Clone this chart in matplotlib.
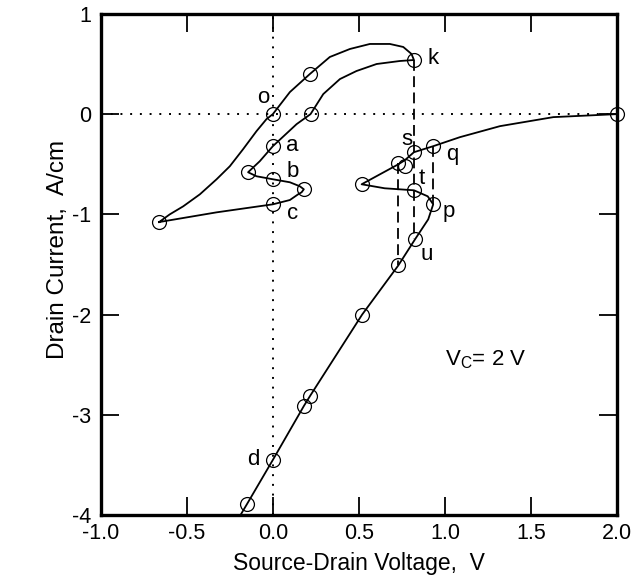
import matplotlib
matplotlib.use("Agg")
import matplotlib.pyplot as plt
from matplotlib.ticker import FormatStrFormatter, FixedLocator

plt.rcParams['font.family'] = ['Liberation Sans', 'DejaVu Sans']

# closed hysteresis loop
loop_x = [-0.661, -0.599, -0.521, -0.424, -0.327, -0.25, -0.173, -0.095, -0.037, 0.0,
          0.099, 0.215, 0.331, 0.448, 0.564, 0.68, 0.758, 0.806, 0.82,
          0.738, 0.603, 0.486, 0.39, 0.293, 0.219, 0.138, 0.0, -0.076, -0.144,
          -0.095, 0.0, 0.099, 0.157, 0.18, 0.167, 0.147, 0.099, 0.0, -0.327, -0.661]
loop_y = [-1.077, -1.00, -0.92, -0.80, -0.65, -0.52, -0.35, -0.17, -0.05, 0.0,
          0.22, 0.40, 0.57, 0.65, 0.70, 0.70, 0.67, 0.60, 0.54,
          0.53, 0.50, 0.43, 0.35, 0.20, 0.0, -0.10, -0.32, -0.47, -0.58,
          -0.62, -0.65, -0.68, -0.72, -0.75, -0.78, -0.80, -0.857, -0.90, -0.98, -1.077]
loop_mx = [-0.661, 0.0, 0.215, 0.82, 0.219, 0.0, -0.144, 0.0, 0.18, 0.0]
loop_my = [-1.077, 0.0, 0.40, 0.54, 0.0, -0.32, -0.58, -0.65, -0.75, -0.90]

# open branch from (2, 0) down to the bottom axis
branch_x = [2.0, 1.63, 1.32, 1.087, 0.932, 0.82, 0.767, 0.73, 0.516, 0.65, 0.82, 0.90,
            0.932, 0.903, 0.826, 0.729, 0.519, 0.217, 0.181, 0.0, -0.15, -0.188]
branch_y = [0.0, -0.03, -0.12, -0.23, -0.32, -0.38, -0.46, -0.50, -0.70, -0.74, -0.76, -0.82,
            -0.90, -1.05, -1.25, -1.51, -2.0, -2.81, -2.91, -3.45, -3.89, -4.0]
branch_mx = [2.0, 0.932, 0.82, 0.767, 0.73, 0.516, 0.82, 0.932, 0.826, 0.729, 0.519,
             0.217, 0.181, 0.0, -0.15]
branch_my = [0.0, -0.32, -0.38, -0.52, -0.49, -0.70, -0.76, -0.90, -1.25, -1.51, -2.0,
             -2.81, -2.91, -3.45, -3.89]

# dashed verticals: x, y_top, y_bottom
dash_x = [0.82, 0.73, 0.932]
dash_top = [0.54, -0.49, -0.32]
dash_bot = [-1.25, -1.51, -0.90]

# point labels
lab_text = ['o', 'k', 'a', 'b', 'c', 's', 't', 'q', 'p', 'u', 'd']
lab_x = [-0.056, 0.93, 0.114, 0.114, 0.114, 0.777, 0.864, 1.04, 1.025, 0.894, -0.116]
lab_y = [0.167, 0.55, -0.31, -0.57, -0.99, -0.25, -0.64, -0.40, -0.97, -1.40, -3.45]

x_ticks = [-1.0, -0.5, 0.0, 0.5, 1.0, 1.5, 2.0]
y_ticks = [-4, -3, -2, -1, 0, 1]

fig = plt.figure(figsize=(6.42, 5.79), dpi=100)
ax = fig.add_axes([0.157, 0.1105, 0.804, 0.8655])

ax.axhline(0, color='black', linestyle=(0, (1, 4)), linewidth=1.4)
ax.axvline(0, color='black', linestyle=(0, (1, 4)), linewidth=1.4)

for xv, yt, yb in zip(dash_x, dash_top, dash_bot):
    ax.plot([xv, xv], [yt, yb], color='black', linestyle=(0, (6, 3)), linewidth=1.3)

ax.plot(loop_x, loop_y, color='black', linewidth=1.3, solid_joinstyle='round')
ax.plot(branch_x, branch_y, color='black', linewidth=1.3, solid_joinstyle='round')
ax.plot(loop_mx, loop_my, linestyle='none', marker='o', markersize=10,
        markerfacecolor='none', markeredgecolor='black', markeredgewidth=0.9)
ax.plot(branch_mx, branch_my, linestyle='none', marker='o', markersize=10,
        markerfacecolor='none', markeredgecolor='black', markeredgewidth=0.9, clip_on=False)

for t, xv, yv in zip(lab_text, lab_x, lab_y):
    ax.text(xv, yv, t, fontsize=16, ha='center', va='center')

ax.text(1.0, -2.45, r'V$_\mathregular{C}$= 2 V', fontsize=16, ha='left', va='center')

ax.set_xlim(-1.0, 2.0)
ax.set_ylim(-4, 1)
ax.xaxis.set_major_locator(FixedLocator(x_ticks))
ax.yaxis.set_major_locator(FixedLocator(y_ticks))
ax.xaxis.set_major_formatter(FormatStrFormatter('%.1f'))
ax.yaxis.set_major_formatter(FormatStrFormatter('%d'))
ax.tick_params(direction='in', length=13, width=1.3, labelsize=15.5,
               top=True, right=True)
ax.tick_params(axis='x', pad=6)
ax.tick_params(axis='y', pad=7)
for sp in ax.spines.values():
    sp.set_linewidth(2.4)

ax.set_xlabel('Source-Drain Voltage,  V', fontsize=16.5)
ax.set_ylabel('Drain Current,  A/cm', fontsize=17.5)
ax.xaxis.set_label_coords(0.5, -0.074)
ax.yaxis.set_label_coords(-0.062, 0.53)

fig.savefig('out.png', dpi=100)
